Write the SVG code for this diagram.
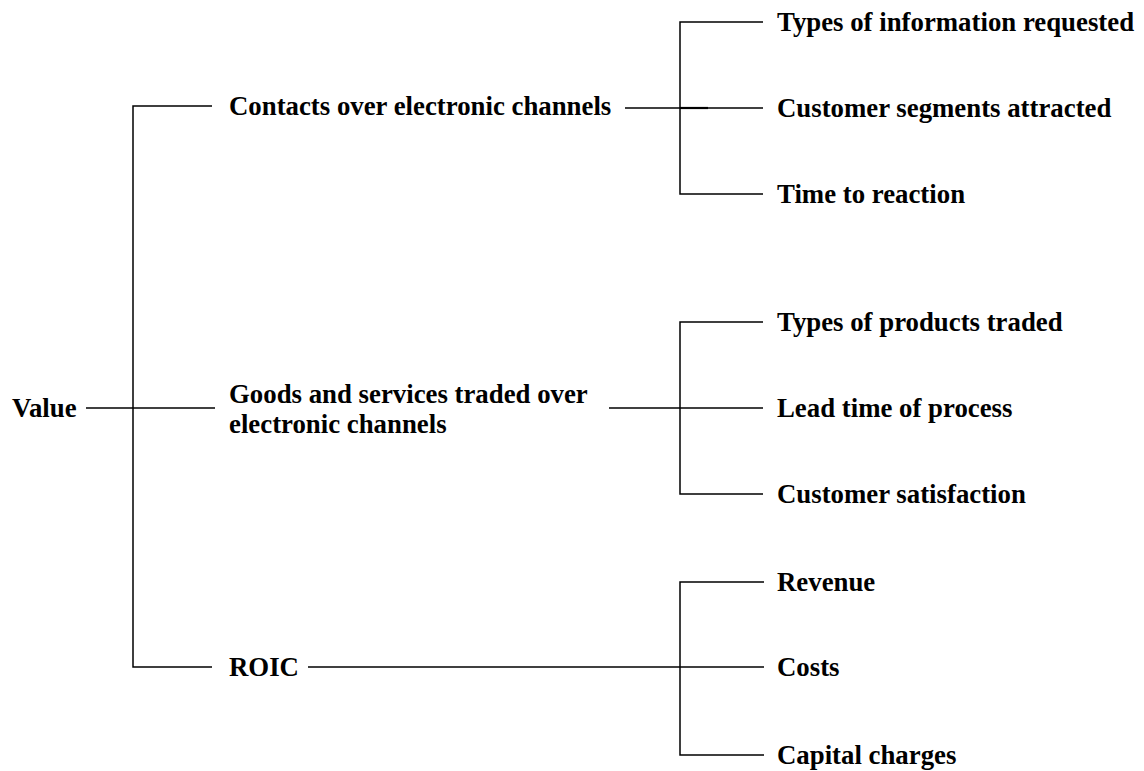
<svg xmlns="http://www.w3.org/2000/svg" width="1144" height="771" viewBox="0 0 1144 771">
<style>
text{font-family:"Liberation Serif","Times New Roman",serif;font-weight:bold;font-size:26.8px;fill:#000}
.c line,.c path{stroke:#000;stroke-width:1.5;fill:none}
</style>
<rect width="1144" height="771" fill="#fff"/>
<g class="c" id="connectors">
<path d="M212,106 H133 V667 H212"/>
<line x1="86" y1="408" x2="215" y2="408"/>
<line x1="625" y1="108" x2="763" y2="108"/>
<line x1="680" y1="108" x2="708" y2="108" style="stroke-width:2.2"/>
<path d="M763,22 H680 V194 H763"/>
<line x1="609" y1="408" x2="763" y2="408"/>
<path d="M763,322 H680 V494 H763"/>
<line x1="308" y1="667" x2="764" y2="667"/>
<path d="M764,582 H680 V755 H764"/>
</g>
<g id="value"><text x="12" y="417">Value</text></g>
<g id="contacts"><text x="229" y="115">Contacts over electronic channels</text></g>
<g id="goods"><text x="229" y="403">Goods and services traded over</text><text x="229" y="433">electronic channels</text></g>
<g id="roic"><text x="229" y="676">ROIC</text></g>
<g id="types-info"><text x="777" y="31">Types of information requested</text></g>
<g id="segments"><text x="777" y="117">Customer segments attracted</text></g>
<g id="time-reaction"><text x="777" y="203">Time to reaction</text></g>
<g id="types-products"><text x="777" y="331">Types of products traded</text></g>
<g id="lead-time"><text x="777" y="417">Lead time of process</text></g>
<g id="satisfaction"><text x="777" y="503">Customer satisfaction</text></g>
<g id="revenue"><text x="777" y="591">Revenue</text></g>
<g id="costs"><text x="777" y="676">Costs</text></g>
<g id="capital"><text x="777" y="764">Capital charges</text></g>
</svg>
